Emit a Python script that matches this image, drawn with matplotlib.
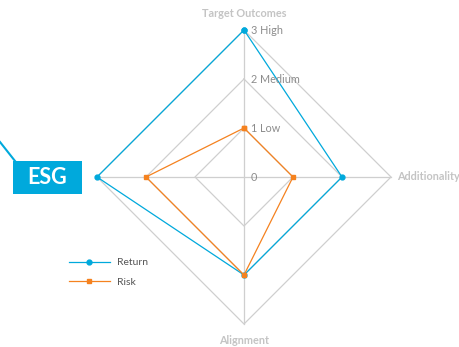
import numpy as np
import matplotlib
matplotlib.use("Agg")
import matplotlib.pyplot as plt
from matplotlib.patches import Rectangle

plt.rcParams['font.family'] = ['Lato', 'DejaVu Sans']

axes_names = ["Target Outcomes", "Additionality", "Alignment", "ESG"]
return_vals = [3, 2, 2, 3]
risk_vals = [1, 1, 2, 2]
ring_levels = [0, 1, 2, 3]
ring_labels = ["0", "1 Low", "2 Medium", "3 High"]

BLUE = "#00a9dc"
ORANGE = "#f5821f"
GRID = "#cfcfcf"
TXT = "#8c8c8c"
AXTXT = "#c4c4c4"

# directions: up, right, down, left
ang = np.array([np.pi / 2, 0, -np.pi / 2, np.pi])
dx, dy = np.cos(ang), np.sin(ang)
U = 49.0  # pixels per unit
CX, CY = 244, 177


def to_xy(vals):
    v = np.asarray(vals, float)
    x, y = v * dx, v * dy
    return np.append(x, x[0]), np.append(y, y[0])


def px(x, y):
    return (x - CX) / U, (CY - y) / U


fig = plt.figure(figsize=(4.6, 3.47), dpi=100)
ax = fig.add_axes([0, 0, 1, 1])
ax.set_xlim(-CX / U, (460 - CX) / U)
ax.set_ylim(-(347 - CY) / U, CY / U)
ax.axis("off")

rmax = ring_levels[-1]
for r in ring_levels[1:]:
    gx, gy = to_xy([r] * 4)
    ax.plot(gx, gy, color=GRID, lw=0.9, zorder=1)
ax.plot([-rmax, rmax], [0, 0], color=GRID, lw=0.9, zorder=1)
ax.plot([0, 0], [-rmax, rmax], color=GRID, lw=0.9, zorder=1)

for r, lab in zip(ring_levels, ring_labels):
    ax.text(0.14, r - 0.02, lab, fontsize=7.8, color=TXT, va="center", ha="left", zorder=4)

rx, ry = to_xy(return_vals)
ax.plot(rx, ry, color=BLUE, lw=0.9, marker="o", ms=3.5, zorder=3, label="Return")
kx, ky = to_xy(risk_vals)
ax.plot(kx, ky, color=ORANGE, lw=0.9, marker="s", ms=3.5, zorder=3, label="Risk")

off = 0.33
ax.text(0, rmax + off, axes_names[0], fontsize=7.8, color=AXTXT, ha="center", va="center", fontweight="bold")
ax.text(rmax + 0.12, 0, axes_names[1], fontsize=7.8, color=AXTXT, ha="left", va="center", fontweight="bold")
ax.text(0, -rmax - off, axes_names[2], fontsize=7.8, color=AXTXT, ha="center", va="center", fontweight="bold")

# ESG callout
x0, y0 = px(0, 142)
x1, y1 = px(15, 161)
ax.plot([x0, x1], [y0, y1], color=BLUE, lw=1.5, zorder=4)
bx, by = px(13, 194)
ax.add_patch(Rectangle((bx, by), 69 / U, 33 / U, fc=BLUE, ec="none", zorder=5))
tx, ty = px(47.5, 178)
ax.text(tx, ty, axes_names[3], fontsize=15.5, color="white", fontweight="bold",
        ha="center", va="center", zorder=6)

ax.legend(loc="upper left", bbox_to_anchor=(69 / 460, 1 - 258 / 347), frameon=False, fontsize=7.5,
          handlelength=3.9, handletextpad=0.67, labelspacing=0.98, borderpad=0, borderaxespad=0,
          labelcolor="#555555")

fig.savefig("out.png", dpi=100)
